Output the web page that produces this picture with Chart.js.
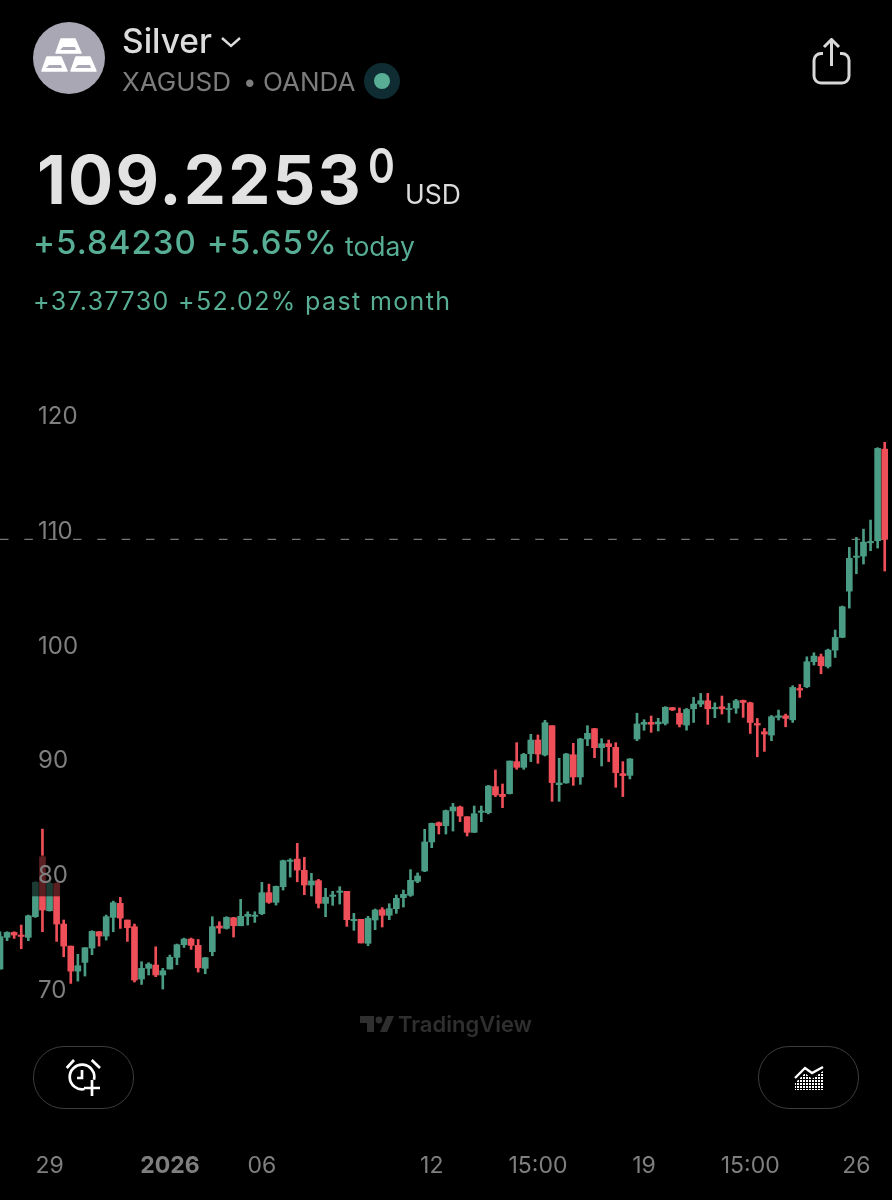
<!DOCTYPE html>
<html>
<head>
<meta charset="utf-8">
<title>Silver XAGUSD</title>
<script src="https://cdn.jsdelivr.net/npm/chart.js@4"></script>
<style>
html, body { margin: 0; background: #000; }
body { width: 892px; height: 1200px; position: relative; overflow: hidden; font-family: Inter, "Liberation Sans", sans-serif; }
canvas { position: absolute; left: 0; top: 0; }
.txt { position: absolute; white-space: nowrap; line-height: 1; }
.pill { position: absolute; top: 1046px; width: 99px; height: 61px; border: 1px solid #3c3c3c; border-radius: 31px; }
svg { position: absolute; }
</style>
</head>
<body>
<canvas id="chart" width="892" height="1200"></canvas>

<svg style="left:33px;top:22px" width="72" height="72" viewBox="0 0 72 72">
  <circle cx="36" cy="36" r="36" fill="#a9a7b4"/>
  <path d="M28 17h14l6 14H23z M14 35h14l6 14H9z M43 35h14l6 14H38z" fill="#fff" stroke="#fff" stroke-width="1.5" stroke-linejoin="round"/>
  <path d="M30 25l-3 3h16l-1-3z M16 43l-3 3h16l-1-3z M45 43l-3 3h16l-1-3z" fill="#a9a7b4"/>
</svg>
<div class="txt" style="left:122px;top:25px;font-size:33.500px;font-weight:500;color:#dcdcdc">Silver</div>
<svg style="left:220px;top:35px" width="22" height="14"><path d="M2 3l9 8 9-8" fill="none" stroke="#dcdcdc" stroke-width="2.4"/></svg>
<div class="txt" style="left:122px;top:69px;font-size:26px;color:#7d7d7d">XAGUSD</div>
<div class="txt" style="left:243px;top:70px;font-size:24px;color:#7d7d7d">•</div>
<div class="txt" style="left:263px;top:69px;font-size:26px;color:#7d7d7d">OANDA</div>
<svg style="left:364px;top:63px" width="37" height="37"><circle cx="18" cy="18" r="18" fill="#0e2c31"/><circle cx="18" cy="18" r="8" fill="#57ae94"/></svg>
<svg style="left:812px;top:38px" width="40" height="48" viewBox="0 0 40 48">
  <path d="M11 15.500H9a7 7 0 0 0-7 7V38a7 7 0 0 0 7 7H30a7 7 0 0 0 7-7V22.500a7 7 0 0 0-7-7h-2" fill="none" stroke="#d8d8d8" stroke-width="3"/>
  <path d="M19.500 28V2M12 9l7.500-7.500L27 9" fill="none" stroke="#d8d8d8" stroke-width="3"/>
</svg>

<div class="txt" style="left:37px;top:146px;font-size:67px;font-weight:700;letter-spacing:2.2px;color:#e2e2e2">109.2253</div>
<div class="txt" style="left:368px;top:142px;font-size:48px;font-weight:600;color:#e2e2e2;transform:scaleX(.85);transform-origin:left">0</div>
<div class="txt" style="left:405px;top:181px;font-size:26.500px;color:#dcdcdc">USD</div>
<div class="txt" style="left:33px;top:226px;font-size:33px;font-weight:500;letter-spacing:1.05px;color:#57ae94">+5.84230 +5.65%</div>
<div class="txt" style="left:345px;top:233px;font-size:26.500px;color:#57ae94">today</div>
<div class="txt" style="left:33px;top:289px;font-size:25px;letter-spacing:1.37px;color:#57ae94">+37.37730 +52.02% past month</div>

<svg style="left:360px;top:1015px" width="34" height="18" viewBox="0 0 34 18">
  <path d="M0 1h14v16H7V8H0z M27 1h7l-7 16h-7z" fill="#2f2f2f"/><circle cx="19" cy="5" r="3.4" fill="#2f2f2f"/>
</svg>
<div class="txt" style="left:398px;top:1013px;font-size:22px;font-weight:600;color:#2f2f2f">TradingView</div>

<div class="pill" style="left:33px"></div>
<svg style="left:64px;top:1058px" width="40" height="40" viewBox="0 0 40 40">
  <path d="M20.500 31A12.300 12.300 0 1 1 30 21.700" fill="none" stroke="#fff" stroke-width="2.700"/>
  <path d="M18 12v8h-5M2.700 10L10 2M27.700 2L36 10M20 30h16M28 22v16" fill="none" stroke="#fff" stroke-width="2.700"/>
</svg>
<div class="pill" style="left:758px"></div>
<svg style="left:794px;top:1065px" width="30" height="26" viewBox="0 0 30 26">
  <defs><pattern id="dots" width="3" height="3" patternUnits="userSpaceOnUse"><rect width="2" height="2" fill="#fff"/></pattern></defs>
  <path d="M1 13L11 3l7 5L29 2" fill="none" stroke="#fff" stroke-width="2.400"/>
  <path d="M1 25v-7L11 8l7 6L29 6v19z" fill="url(#dots)"/>
</svg>

<script>
const opens = [
  71.80,74.56,74.99,74.76,74.56,76.36,81.58,76.88,79.26,75.72,
  73.80,71.62,72.38,73.63,75.05,74.67,76.30,77.52,76.07,75.49,
  70.93,71.86,72.15,71.28,71.80,72.82,73.92,74.41,73.86,71.86,
  73.31,75.55,75.34,76.27,75.57,76.39,76.39,76.62,78.45,77.61,
  78.97,81.18,81.38,80.40,79.12,79.50,77.52,78.13,78.48,78.57,
  76.01,76.13,74.04,76.07,76.97,76.48,77.06,78.02,78.22,79.44,
  80.34,82.87,84.55,84.29,85.57,85.92,85.07,83.71,85.45,85.42,
  87.69,87.02,87.08,89.87,89.37,90.56,91.75,90.45,93.00,87.86,
  88.01,90.47,88.53,91.84,92.74,91.08,91.43,91.11,88.82,88.67,
  91.84,93.12,93.29,93.15,93.20,94.57,94.08,93.05,94.47,94.88,
  95.17,94.47,94.65,94.41,94.53,95.20,94.99,93.19,92.47,92.18,
  93.72,93.86,93.51,96.24,96.39,98.57,99.00,98.16,99.58,100.69,
  104.72,107.66,107.77,108.93,109.11,117.09
]
const highs = [
  75.05,75.05,75.05,75.63,76.50,79.41,83.99,79.40,79.30,76.07,
  73.80,73.08,73.66,75.14,75.08,76.50,77.72,78.04,76.07,75.72,
  72.44,72.35,73.74,71.86,73.02,73.98,74.50,74.50,74.38,72.82,
  76.36,75.92,76.36,76.30,77.87,76.79,76.79,79.35,79.20,79.03,
  81.29,81.41,82.75,81.53,80.14,79.61,78.83,78.57,78.97,78.57,
  76.65,76.13,76.39,77.03,77.15,77.49,78.25,78.68,80.46,80.17,
  83.97,84.52,84.61,85.65,86.23,86.00,85.07,86.00,86.00,87.80,
  89.14,87.92,89.92,91.52,90.59,92.25,92.19,93.47,93.00,90.16,
  90.59,91.46,91.90,93.00,92.77,91.87,91.75,91.52,89.87,90.13,
  94.08,93.52,93.84,93.64,94.66,94.60,94.54,94.50,95.46,95.81,
  95.81,94.99,95.58,94.94,95.29,95.23,95.05,93.63,92.76,93.89,
  94.36,94.01,96.48,96.59,99.00,99.35,99.24,99.67,101.33,103.42,
  108.53,109.40,110.12,110.91,117.21,117.68
]
const lows = [
  71.80,74.27,74.47,73.57,74.27,76.30,75.05,76.85,74.21,72.87,
  70.55,70.75,71.19,73.05,73.80,74.32,75.05,75.34,74.21,70.67,
  70.46,71.28,71.13,70.06,71.80,72.18,73.68,73.51,71.53,71.39,
  72.96,74.91,75.28,74.59,75.57,75.63,75.86,76.53,77.52,77.37,
  78.68,79.81,79.40,78.28,78.16,77.12,76.36,77.35,77.46,75.52,
  75.17,74.07,73.83,75.23,75.46,76.10,76.65,77.20,78.13,79.32,
  80.28,82.37,83.56,83.56,83.82,84.64,83.39,83.68,84.64,85.31,
  86.82,85.86,87.05,89.20,89.20,89.87,89.72,90.36,86.41,86.41,
  87.98,87.80,87.89,91.26,90.21,89.49,89.87,87.63,86.82,88.36,
  91.69,92.60,92.42,92.54,93.06,94.31,92.89,92.61,93.28,94.65,
  93.11,93.69,94.01,93.28,94.07,93.72,92.32,90.29,90.76,91.69,
  93.49,92.90,93.28,95.46,96.30,98.28,97.52,98.02,98.94,100.66,
  103.24,106.23,107.08,108.24,108.47,106.47
]
const closes = [
  74.62,74.99,74.76,74.64,76.44,79.35,76.94,79.26,75.72,73.80,
  71.62,72.09,73.66,75.08,74.67,76.36,77.58,76.24,75.40,70.84,
  71.86,72.23,71.28,71.65,72.82,73.92,74.41,73.86,71.91,72.79,
  75.49,75.37,76.30,75.57,76.39,76.56,76.50,78.45,77.61,79.00,
  81.24,81.29,80.42,79.12,79.47,77.52,78.05,78.25,78.60,76.10,
  76.13,74.07,76.22,76.94,76.48,77.06,77.96,78.31,79.53,79.90,
  82.87,84.49,84.29,85.60,85.92,85.13,83.71,85.33,85.57,87.74,
  86.96,86.82,89.92,89.37,90.50,91.75,90.53,93.26,88.04,88.01,
  90.53,88.53,91.84,92.33,91.08,91.43,91.17,88.91,88.65,90.10,
  93.15,93.29,93.12,93.32,94.60,94.37,93.12,94.41,94.88,95.17,
  94.47,94.59,94.47,94.50,95.17,95.02,93.28,93.05,92.27,93.78,
  93.86,93.63,96.33,96.10,98.57,99.06,98.22,99.58,100.69,103.36,
  107.57,107.77,108.99,109.05,117.15,109.23
]
const lastPrice = 109.2253
const yTicks = [70, 80, 90, 100, 110, 120]
const xTickIndex = [7, 24, 37, 61, 76, 91, 106, 121]
const xTickLabels = ['29', '2026', '06', '12', '15:00', '19', '15:00', '26']

const UP = '#4b9c84'
const DOWN = '#ee4f58'
const candleColors = closes.map((c, i) => c >= opens[i] ? UP : DOWN)

new Chart(document.getElementById('chart'), {
  type: 'bar',
  data: {
    datasets: [
      {
        // corpo do candle
        data: closes.map((c, i) => ({ x: i, y: [opens[i], c] })),
        backgroundColor: candleColors,
        barThickness: 6,
        grouped: false,
        order: 1
      },
      {
        // pavio
        data: closes.map((c, i) => ({ x: i, y: [lows[i], highs[i]] })),
        backgroundColor: candleColors,
        barThickness: 2,
        grouped: false,
        order: 2
      },
      {
        type: 'line',
        data: [{ x: 0, y: lastPrice }, { x: 127, y: lastPrice }],
        borderColor: '#767676',
        borderWidth: 1.2,
        borderDash: [8.5, 15.83],
        pointRadius: 0,
        order: 3
      }
    ]
  },
  options: {
    responsive: false,
    animation: false,
    layout: { padding: 0 },
    plugins: { legend: { display: false }, tooltip: { enabled: false } },
    scales: {
      x: {
        type: 'linear',
        min: 0,
        max: 126.03,
        offset: false,
        grid: { display: false, drawTicks: false },
        border: { display: false },
        afterBuildTicks: axis => { axis.ticks = xTickIndex.map(v => ({ value: v })) },
        afterFit: axis => { axis.height = 70; axis.paddingLeft = 0; axis.paddingRight = 0 },
        ticks: {
          autoSkip: false,
          maxRotation: 0,
          padding: 22,
          color: '#7f7f7f',
          font: c => ({ family: 'Inter', size: 23, weight: c.index === 1 ? '700' : '400' }),
          callback: v => xTickLabels[xTickIndex.indexOf(v)]
        }
      },
      y: {
        min: 57.78,
        max: 156.21,
        grid: { display: false, drawTicks: false },
        border: { display: false },
        afterBuildTicks: axis => { axis.ticks = yTicks.map(v => ({ value: v })) },
        afterFit: axis => { axis.width = 0; axis.paddingTop = 0; axis.paddingBottom = 0 },
        ticks: {
          z: 1,
          mirror: true,
          padding: 38,
          labelOffset: 1,
          color: '#7f7f7f',
          font: { family: 'Inter', size: 24 },
          showLabelBackdrop: true,
          backdropColor: c => c.tick.value === 80 ? 'rgba(0,0,0,0.62)' : 'rgba(0,0,0,0)',
          backdropPadding: { x: 6, y: 6 }
        }
      }
    }
  }
})
</script>
</body>
</html>
